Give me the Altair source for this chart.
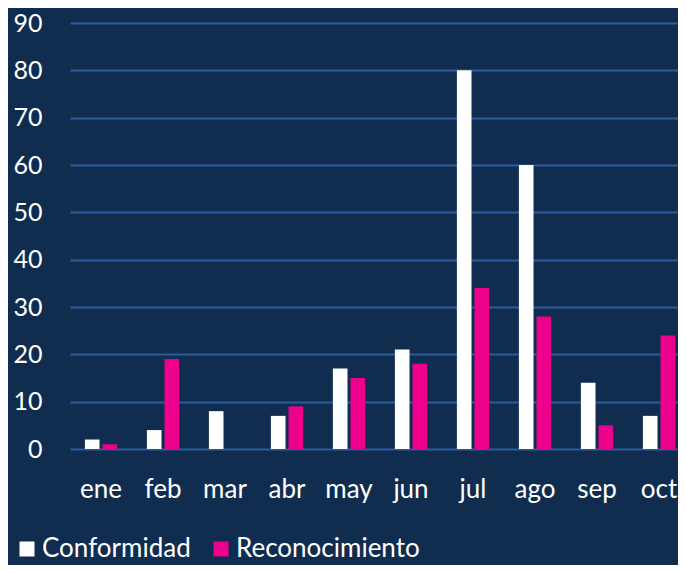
import altair as alt
import pandas as pd

months = ["ene", "feb", "mar", "abr", "may", "jun", "jul", "ago", "sep", "oct"]
conformidad = [2, 4, 8, 7, 17, 21, 80, 60, 14, 7]
reconocimiento = [1, 19, 0, 9, 15, 18, 34, 28, 5, 24]
series = ["Conformidad", "Reconocimiento"]
colors = ["#ffffff", "#ec008c"]
y_ticks = [0, 10, 20, 30, 40, 50, 60, 70, 80, 90]

rows = []
for i, m in enumerate(months):
    rows.append({"mes": m, "serie": series[0], "valor": conformidad[i]})
    rows.append({"mes": m, "serie": series[1], "valor": reconocimiento[i]})
df = pd.DataFrame(rows)

FONT = "Lato"
BG = "#102d50"

chart = (
    alt.Chart(df)
    .mark_bar()
    .encode(
        x=alt.X(
            "mes:N",
            sort=months,
            title=None,
            scale=alt.Scale(range=[0, 620], paddingInner=0.48, paddingOuter=0.24),
            axis=alt.Axis(
                labelAngle=0, domain=False, ticks=False, labelPadding=27,
                labelFontSize=26, labelColor="#ffffff", labelFont=FONT, grid=False,
            ),
        ),
        xOffset=alt.XOffset("serie:N", sort=series, scale=alt.Scale(paddingInner=0.17)),
        y=alt.Y(
            "valor:Q",
            title=None,
            scale=alt.Scale(domain=[0, 90], nice=False),
            axis=alt.Axis(
                values=y_ticks, domain=False, ticks=False, labelPadding=28,
                labelFontSize=25, labelColor="#ffffff", labelFont=FONT,
                grid=True, gridColor="#2a5d9f", gridWidth=2, gridOpacity=1,
            ),
        ),
        color=alt.Color(
            "serie:N",
            sort=series,
            scale=alt.Scale(domain=series, range=colors),
            legend=alt.Legend(
                title=None, orient="none", direction="horizontal",
                legendX=-56, legendY=513,
                symbolType="square", symbolSize=225, symbolStrokeWidth=0,
                symbolOpacity=1, labelLimit=0,
                labelFontSize=26, labelColor="#ffffff", labelFont=FONT,
                columnPadding=17, labelOffset=2, padding=0,
            ),
        ),
    )
    .properties(
        width=608,
        height=426,
        background=BG,
        autosize=alt.AutoSizeParams(type="none"),
        padding={"left": 62, "top": 15, "right": 0, "bottom": 116},
    )
    .configure_view(stroke=None)
)

chart.save("out.html", embed_options={"renderer": "svg", "actions": False})
